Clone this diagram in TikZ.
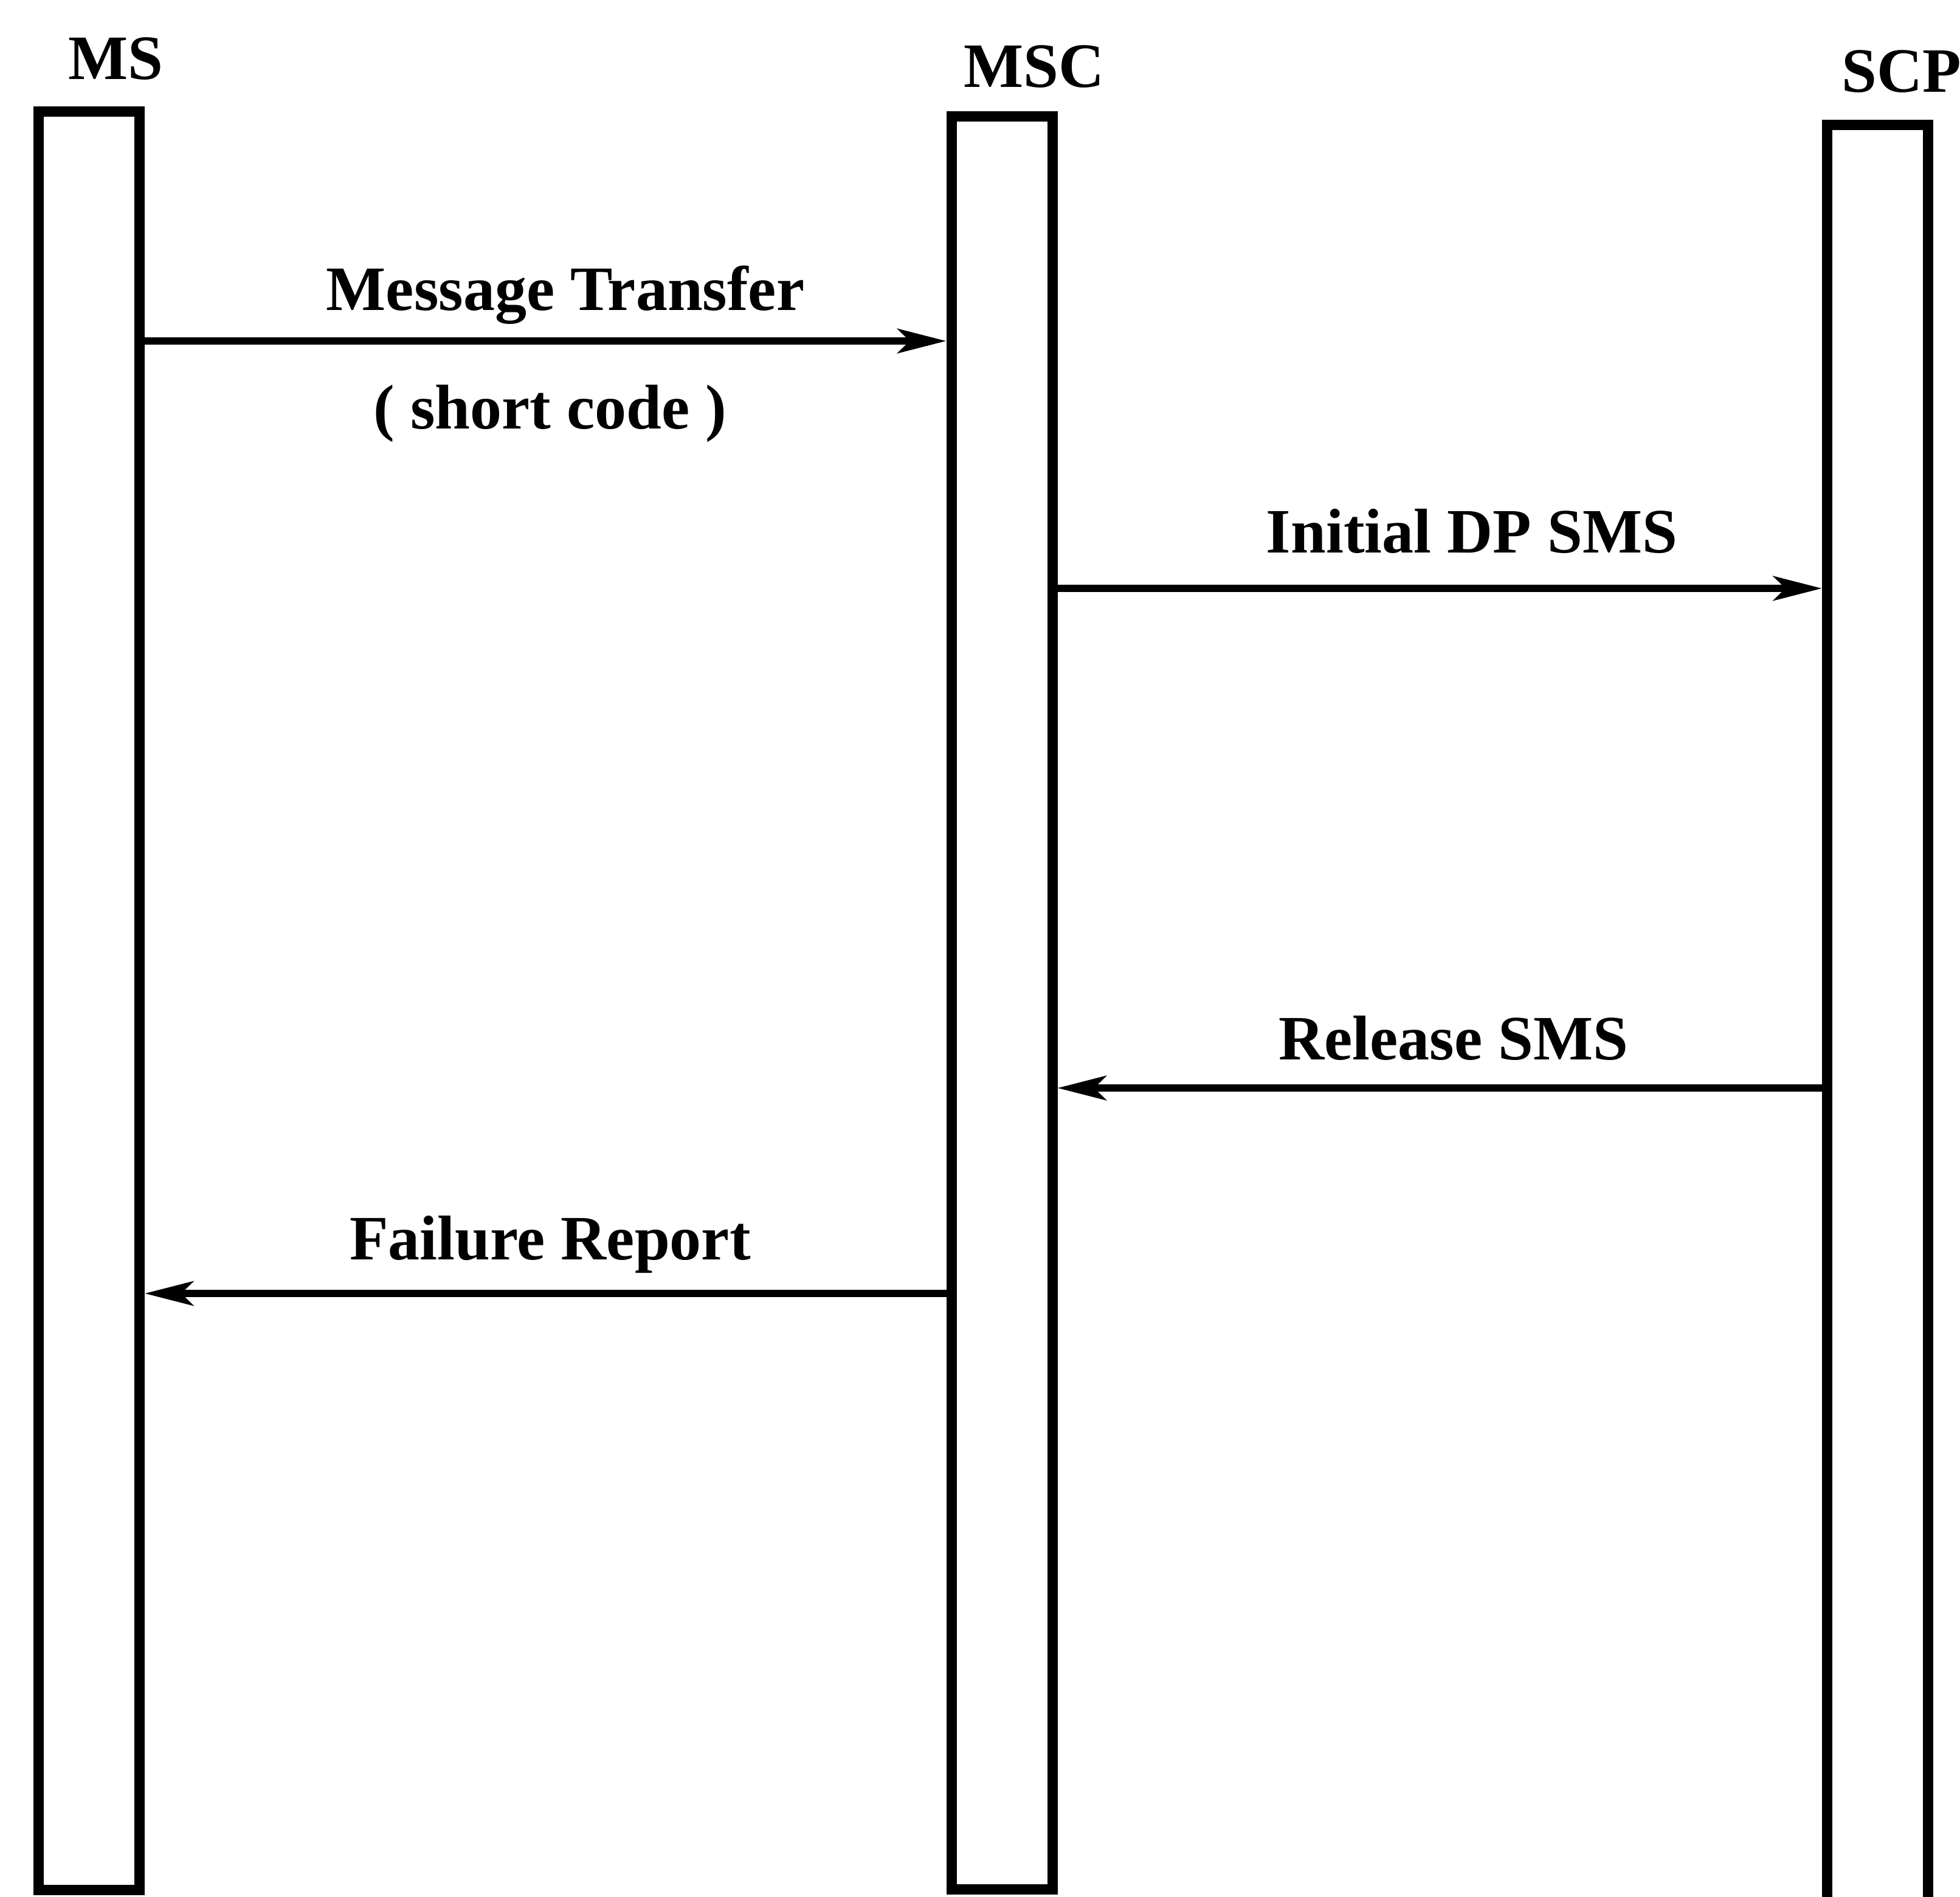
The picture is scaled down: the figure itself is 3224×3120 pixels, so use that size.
\documentclass[tikz,border=0pt]{standalone}
\usepackage{fontspec}
\setmainfont{Liberation Serif}
\usetikzlibrary{arrows.meta}
\tikzset{
  lifeline/.style={draw, line width=4.25pt, rectangle, inner sep=0pt, minimum width=41.5pt},
  msg/.style={line width=3pt, -{Stealth[length=20pt,width=10pt,inset=5pt]}},
  lbl/.style={font=\fontsize{26}{30}\selectfont\bfseries, anchor=base, inner sep=0pt},
}
\begin{document}
\begin{tikzpicture}[x=0.25pt,y=-0.25pt]
\clip (0,0) rectangle (3224,3120);
% lifelines
\node[lifeline, minimum height=731.5pt] (ms) at (146.5,1646.5) {};
\node[lifeline, minimum height=729.25pt] (msc) at (1648,1650) {};
\node[lifeline, minimum height=736.5pt] (scp) at (3088.5,1678.5) {};
% titles
\node[lbl] (tms) at (190,130) {MS};
\node[lbl] (tmsc) at (1701,143) {MSC};
\node[lbl] (tscp) at (3128,151) {SCP};
% messages
\draw[msg] (ms.east |- 0,561) -- (msc.west |- 0,561);
\node[lbl] (l1) at (930,510) {Message Transfer};
\node[lbl] (l1b) at (905,705) {( short code )};
\draw[msg] (msc.east |- 0,968) -- (scp.west |- 0,968);
\node[lbl] (l2) at (2421,909) {Initial DP SMS};
\draw[msg] (scp.west |- 0,1790) -- (msc.east |- 0,1790);
\node[lbl] (l3) at (2391,1743) {Release SMS};
\draw[msg] (msc.west |- 0,2128) -- (ms.east |- 0,2128);
\node[lbl] (l4) at (905,2072) {Failure Report};
\end{tikzpicture}
\end{document}
